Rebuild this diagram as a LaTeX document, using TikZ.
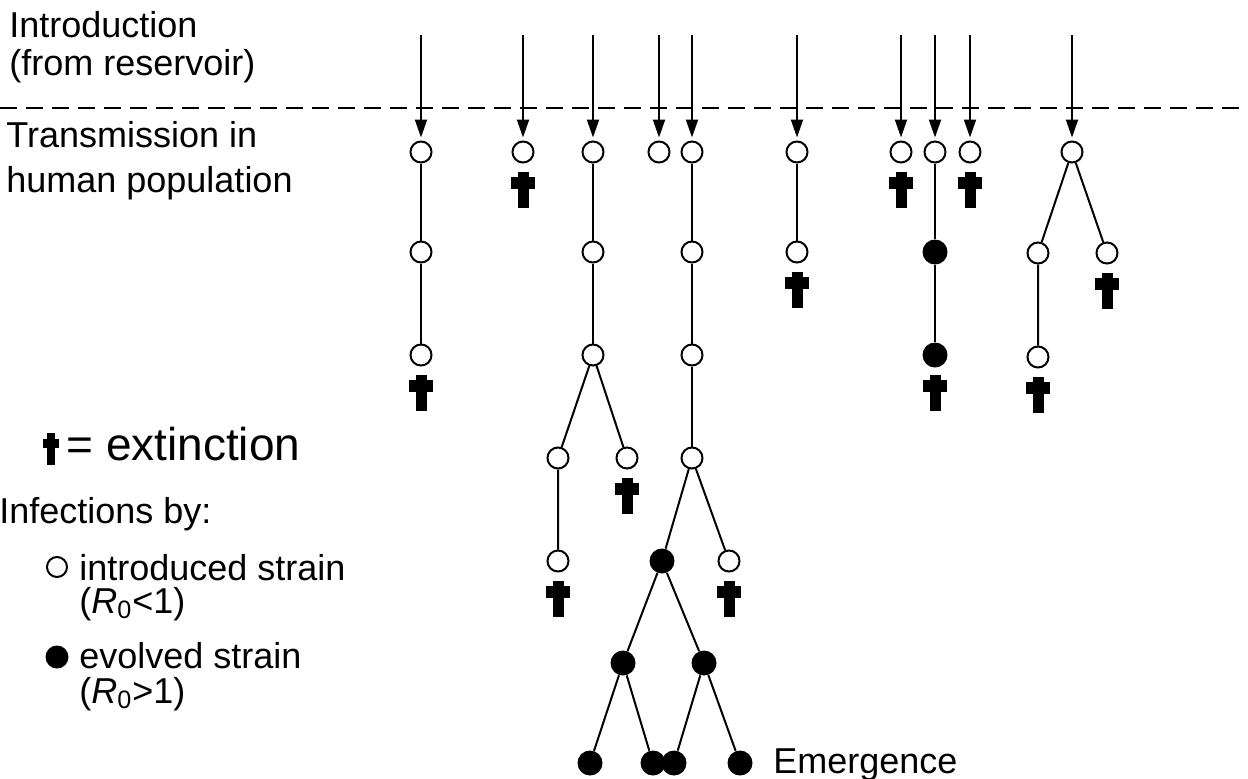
\documentclass[tikz,border=0pt]{standalone}
\usepackage{fontspec}
\setmainfont{Liberation Sans}
\usetikzlibrary{arrows.meta,calc}

\begin{document}
\begin{tikzpicture}[x=0.5pt,y=-0.5pt,
  open/.style={circle,draw,line width=1pt,fill=white,minimum size=10.5pt,inner sep=0pt},
  evolved/.style={circle,fill=black,minimum size=12.5pt,inner sep=0pt},
  link/.style={line width=1pt},
  intro/.style={line width=1pt,-{Triangle[length=9pt,width=6pt]},shorten >=1.5pt},
  divider/.style={line width=1pt,dash pattern=on 8.5pt off 4.5pt},
  lbl/.style={anchor=base west,inner sep=0pt,font=\fontsize{18}{19}\selectfont,align=left},
  extinct/.pic={\fill (-5.5,0) rectangle (5.5,36); \fill (-12,5) rectangle (12,17);},
  dagger/.pic={\fill (-4,0) rectangle (4,32); \fill (-8,6) rectangle (8,15);},
]
\useasboundingbox (0,0) rectangle (1248,778);

% boundary between reservoir and human population
\coordinate (dl) at (0,108);
\coordinate (dr) at (1248,108);
\draw[divider] (dl) -- (dr);

% left-hand labels (anchored on the baseline of their last line)
\node[lbl] (introlbl) at (9,75) {Introduction\\(from reservoir)};
\node[lbl,font=\fontsize{18}{22.5}\selectfont] (translbl) at (6,192) {Transmission in\\human population};

% ---------- chains of infection ----------
% chain a
\node[open] (a1) at (421,152) {};
\node[open] (a2) at (421,252) {};
\node[open] (a3) at (421,355) {};
% chain b
\node[open] (b1) at (523,152) {};
% chain c
\node[open] (c1) at (593,152) {};
\node[open] (c2) at (593,252) {};
\node[open] (c3) at (593,355) {};
\node[open] (c4) at (558,458) {};
\node[open] (c5) at (627,458) {};
\node[open] (c6) at (558,561) {};
% chain d
\node[open] (d1) at (659,152) {};
% chain e (leads to emergence)
\node[open] (e1) at (692,152) {};
\node[open] (e2) at (692,252) {};
\node[open] (e3) at (692,355) {};
\node[open] (e4) at (692,458) {};
\node[evolved] (e5) at (662,561) {};
\node[open] (e6) at (729,561) {};
\node[evolved] (e7) at (623,663) {};
\node[evolved] (e8) at (704,663) {};
\node[evolved] (e9) at (590,763) {};
\node[evolved] (e10) at (653,763) {};
\node[evolved] (e11) at (674,763) {};
\node[evolved] (e12) at (740,763) {};
% chain f
\node[open] (f1) at (797,152) {};
\node[open] (f2) at (797,252) {};
% chain g
\node[open] (g1) at (901,152) {};
% chain h
\node[open] (h1) at (935,152) {};
\node[evolved] (h2) at (935,252) {};
\node[evolved] (h3) at (935,355) {};
% chain i
\node[open] (i1) at (970,152) {};
% chain j
\node[open] (j1) at (1072,152) {};
\node[open] (j2) at (1038,253) {};
\node[open] (j3) at (1107,253) {};
\node[open] (j4) at (1038,357) {};

% introductions from the reservoir
\foreach \n/\x in {a1/421,b1/523,c1/593,d1/659,e1/692,f1/797,g1/901,h1/935,i1/970,j1/1072}{
  \coordinate (src-\n) at (\x,35);
  \draw[intro] (src-\n) -- (\n);
}

% transmission links
\draw[link] (a1) -- (a2) -- (a3);
\draw[link] (c1) -- (c2) -- (c3);
\draw[link] (c3) -- (c4) -- (c6);
\draw[link] (c3) -- (c5);
\draw[link] (e1) -- (e2) -- (e3) -- (e4);
\draw[link] (e4) -- (e5);
\draw[link] (e4) -- (e6);
\draw[link] (e5) -- (e7);
\draw[link] (e5) -- (e8);
\draw[link] (e7) -- (e9);
\draw[link] (e7) -- (e10);
\draw[link] (e8) -- (e11);
\draw[link] (e8) -- (e12);
\draw[link] (f1) -- (f2);
\draw[link] (h1) -- (h2) -- (h3);
\draw[link] (j1) -- (j2) -- (j4);
\draw[link] (j1) -- (j3);

% extinctions
\foreach \n in {a3,b1,c5,c6,e6,f2,g1,h3,i1,j3,j4}{
  \pic at ($(\n)+(0,20)$) {extinct};
}

\node[lbl] (emerg) at (773,773) {Emergence};

% ---------- key ----------
\pic at (51,433) {dagger};
\node[lbl,font=\fontsize{23}{26}\selectfont] (keyext) at (66,460) {= extinction};
\node[lbl] (keyinf) at (-1,523) {Infections by:};
\node[open,minimum size=10pt] (keyopen) at (57,567) {};
\node[lbl] (keyintro) at (79,580) {introduced strain};
\node[lbl] (keyr1) at (79,613) {(\textit{R}\textsubscript{0}<1)};
\node[evolved,minimum size=11.5pt] (keyfill) at (57,657) {};
\node[lbl] (keyevol) at (79,668) {evolved strain};
\node[lbl] (keyr2) at (79,703) {(\textit{R}\textsubscript{0}>1)};
\end{tikzpicture}
\end{document}
